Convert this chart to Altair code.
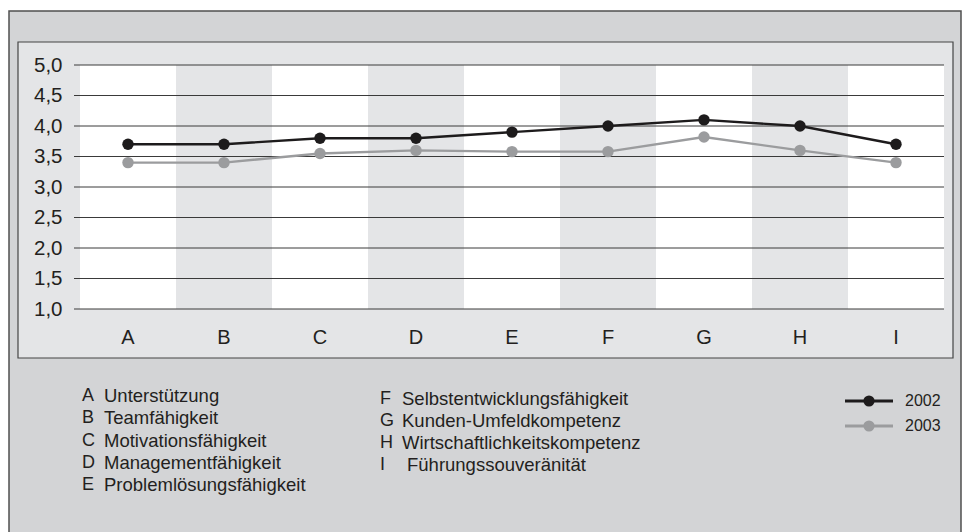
import altair as alt
import pandas as pd

# ---------------- data ----------------
cats = ["A", "B", "C", "D", "E", "F", "G", "H", "I"]
descs = [
    "Unterstützung",
    "Teamfähigkeit",
    "Motivationsfähigkeit",
    "Managementfähigkeit",
    "Problemlösungsfähigkeit",
    "Selbstentwicklungsfähigkeit",
    "Kunden-Umfeldkompetenz",
    "Wirtschaftlichkeitskompetenz",
    "Führungssouveränität",
]
series = ["2002", "2003"]
v2002 = [3.7, 3.7, 3.8, 3.8, 3.9, 4.0, 4.1, 4.0, 3.7]
v2003 = [3.4, 3.4, 3.55, 3.6, 3.58, 3.58, 3.82, 3.6, 3.4]
y_ticks = [1.0, 1.5, 2.0, 2.5, 3.0, 3.5, 4.0, 4.5, 5.0]

# ---------------- tables ----------------
W, H = 864, 244
FONT = "Liberation Sans, Arial, Helvetica, sans-serif"
TXT = "#231f20"

df_cat = pd.DataFrame({"cat": cats, "idx": list(range(len(cats)))})
df_long = pd.DataFrame({
    "cat": cats * 2,
    "value": v2002 + v2003,
    "series": [series[0]] * len(cats) + [series[1]] * len(cats),
})
df_grid = pd.DataFrame({"v": y_ticks})
df_leg = pd.DataFrame({"letter": cats, "desc": descs, "idx": list(range(len(cats)))})
df_ser = pd.DataFrame({"series": series, "idx": [0, 1]})
dummy = pd.DataFrame({"d": [0]})

yscale = alt.Scale(domain=[1, 5], nice=False, zero=False)
color_scale = alt.Scale(domain=series, range=["#1d1b1c", "#9b9c9e"])

# ---------------- frames ----------------
outer = alt.Chart(dummy).mark_rect(
    fill="#d3d4d6", stroke="#505050", strokeWidth=1.5
).encode(x=alt.value(-71), x2=alt.value(881), y=alt.value(-54), y2=alt.value(480))

inner = alt.Chart(dummy).mark_rect(
    fill="#e4e5e7", stroke="#454545", strokeWidth=1.2
).encode(x=alt.value(-62), x2=alt.value(873), y=alt.value(-23), y2=alt.value(293))

# ---------------- stripes ----------------
stripes = alt.Chart(df_cat).mark_rect().encode(
    x=alt.X(
        "cat:N",
        sort=cats,
        scale=alt.Scale(domain=cats, paddingInner=0, paddingOuter=0),
        axis=alt.Axis(
            title=None, labelAngle=0, ticks=False, tickSize=0, domain=False,
            grid=False, labelPadding=28, labelBaseline="middle", orient="bottom",
            labelFontSize=20, labelFont=FONT, labelColor=TXT, zindex=2,
        ),
    ),
    y=alt.value(0),
    y2=alt.value(H),
    fill=alt.condition("datum.idx % 2 == 1", alt.value("#e4e5e7"), alt.value("#ffffff")),
)

# ---------------- gridlines ----------------
grid = alt.Chart(df_grid).mark_rule(color="#3a3a3a", strokeWidth=1).encode(
    y=alt.Y(
        "v:Q",
        scale=yscale,
        axis=alt.Axis(
            title=None, values=y_ticks, grid=False, ticks=False, tickSize=0,
            domain=False, labelPadding=18, labelFontSize=20.5, labelFont=FONT,
            labelColor=TXT, orient="left", zindex=2,
            labelExpr="replace(format(datum.value, '.1f'), '.', ',')",
        ),
    ),
    x=alt.value(-6),
    x2=alt.value(W),
)

# ---------------- series ----------------
xpt = alt.X("cat:N", sort=cats, scale=alt.Scale(domain=cats), axis=None)
ypt = alt.Y("value:Q", scale=yscale, axis=None)
col = alt.Color("series:N", scale=color_scale, legend=None)

lines = alt.Chart(df_long).mark_line(strokeWidth=2.4).encode(
    x=xpt, y=ypt, color=col, detail="series:N"
)
points = alt.Chart(df_long).mark_circle(size=130, opacity=1).encode(
    x=xpt, y=ypt, color=col
)

# ---------------- category legend ----------------
leg_base = alt.Chart(df_leg).transform_calculate(
    colno="datum.idx >= 5 ? 1 : 0",
    row="datum.idx >= 5 ? datum.idx - 5 : datum.idx",
).transform_calculate(
    px="datum.colno == 1 ? 300 : 2",
    dx="datum.colno == 1 ? (datum.letter == 'I' ? 327 : 322) : 24",
    py="datum.colno == 1 ? 334 + datum.row * 22 : 331 + datum.row * 22.3",
)
leg_letters = leg_base.mark_text(
    align="left", baseline="middle", fontSize=18, font=FONT, color=TXT
).encode(
    x=alt.X("px:Q", scale=None, axis=None),
    y=alt.Y("py:Q", scale=None, axis=None),
    text="letter:N",
)
leg_descs = leg_base.mark_text(
    align="left", baseline="middle", fontSize=18.5, font=FONT, color=TXT
).encode(
    x=alt.X("dx:Q", scale=None, axis=None),
    y=alt.Y("py:Q", scale=None, axis=None),
    text="desc:N",
)

# ---------------- series legend ----------------
ser_base = alt.Chart(df_ser).transform_calculate(py="336 + datum.idx * 25")
ser_rules = ser_base.mark_rule(strokeWidth=3).encode(
    x=alt.value(765), x2=alt.value(813),
    y=alt.Y("py:Q", scale=None, axis=None),
    color=col,
)
ser_points = ser_base.mark_circle(size=125, opacity=1).encode(
    x=alt.value(789),
    y=alt.Y("py:Q", scale=None, axis=None),
    color=col,
)
ser_text = ser_base.mark_text(
    align="left", baseline="middle", fontSize=16, font=FONT, color=TXT
).encode(
    x=alt.value(825),
    y=alt.Y("py:Q", scale=None, axis=None),
    text="series:N",
)

chart = alt.layer(
    outer, inner, stripes, grid, lines, points,
    leg_letters, leg_descs, ser_rules, ser_points, ser_text,
).resolve_scale(
    x="independent", y="independent"
).properties(
    width=W,
    height=H,
    autosize=alt.AutoSizeParams(type="none"),
    padding={"left": 80, "top": 65, "right": 22, "bottom": 223},
    background="#ffffff",
).configure_view(stroke=None)

chart.save("out.html", embed_options={"renderer": "svg", "actions": False})
